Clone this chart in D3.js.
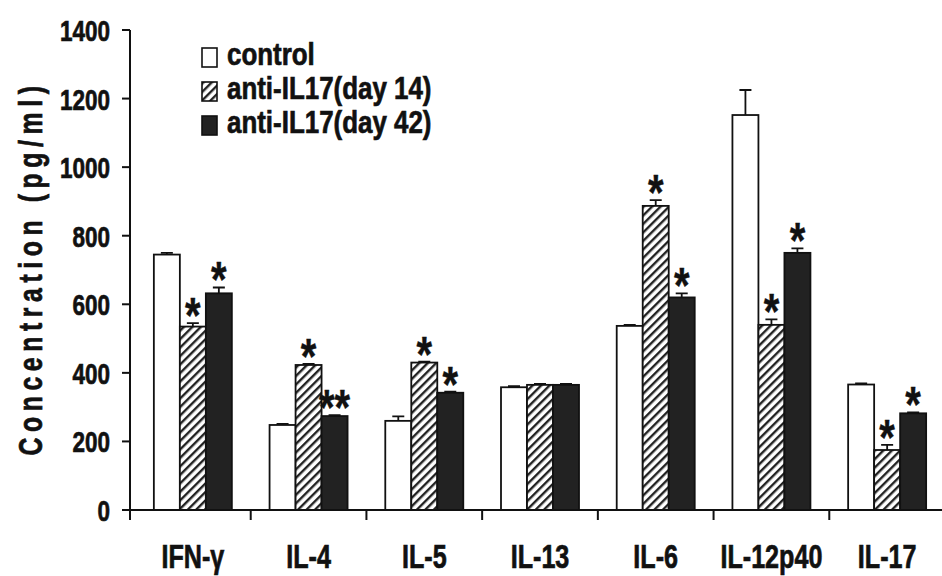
<!DOCTYPE html>
<meta charset="utf-8">
<script src="https://d3js.org/d3.v7.min.js"></script>
<style>
    body { margin: 0; background: #fff; }
    text { font-family: "Liberation Sans", Arial, sans-serif; font-weight: bold; fill: #111; stroke: #111; stroke-width: 0.7px; }
</style>
<body>
<svg id="chart" width="942" height="576"></svg>
<script>
    // data
    var cytokines = ["IFN-\u03b3", "IL-4", "IL-5", "IL-13", "IL-6", "IL-12p40", "IL-17"];
    var groups = ["control", "anti-IL17(day 14)", "anti-IL17(day 42)"];
    var controlVals = [745, 248, 260, 358, 537, 1152, 366];
    var controlErr = [5, 3, 13, 3, 3, 73, 3];
    var day14Vals = [535, 423, 430, 365, 887, 540, 175];
    var day14Err = [10, 3, 3, 3, 17, 16, 15];
    var day42Vals = [632, 274, 342, 365, 620, 750, 282];
    var day42Err = [17, 3, 3, 3, 12, 13, 3];
    var day14Stars = ["*", "*", "*", "", "*", "*", "*"];
    var day42Stars = ["*", "**", "*", "", "*", "*", "*"];
    var yTicks = [0, 200, 400, 600, 800, 1000, 1200, 1400];

    var series = [
        { name: groups[0], vals: controlVals, err: controlErr, stars: null },
        { name: groups[1], vals: day14Vals, err: day14Err, stars: day14Stars },
        { name: groups[2], vals: day42Vals, err: day42Err, stars: day42Stars }
    ];
    var fills = ["#fff", "url(#hatch)", "#222"];

    var svg = d3.select("#chart");

    // diagonal hatch
    var pat = svg.append("defs").append("pattern")
        .attr("id", "hatch")
        .attr("patternUnits", "userSpaceOnUse")
        .attr("width", 6).attr("height", 6)
        .attr("patternTransform", "rotate(45)");
    pat.append("rect").attr("width", 6).attr("height", 6).attr("fill", "#fff");
    pat.append("rect").attr("width", 2.4).attr("height", 6).attr("fill", "#222");

    var x = d3.scaleBand().domain(cytokines).range([135, 945]).paddingInner(0).paddingOuter(0);
    var groupW = 78;
    var xSub = d3.scaleBand().domain(d3.range(3)).range([0, groupW]);
    var y = d3.scaleLinear().domain([0, 1400]).range([510, 30]);

    function barX(c, i) {
        return x(c) + (x.bandwidth() - groupW) / 2 + xSub(i);
    }

    // bars
    series.forEach(function (s, si) {
        var g = svg.append("g");
        var w = xSub.bandwidth();
        g.selectAll("rect")
            .data(cytokines)
            .enter()
            .append("rect")
            .attr("x", (c) => barX(c, si))
            .attr("y", (c, i) => y(s.vals[i]))
            .attr("width", w)
            .attr("height", (c, i) => y(0) - y(s.vals[i]))
            .attr("fill", fills[si])
            .attr("stroke", "#111")
            .attr("stroke-width", 1.8);

        // error bars (upper only)
        g.selectAll("path.err")
            .data(cytokines)
            .enter()
            .append("path")
            .attr("class", "err")
            .attr("d", (c, i) => {
                var cx = barX(c, si) + w / 2;
                var top = y(s.vals[i] + s.err[i]);
                var base = y(s.vals[i]);
                return d3.line()([[cx, base], [cx, top]]) + d3.line()([[cx - 6, top], [cx + 6, top]]);
            })
            .attr("stroke", "#111")
            .attr("stroke-width", 1.8)
            .attr("fill", "none");

        // significance marks
        if (s.stars) {
            g.selectAll("text.star")
                .data(cytokines)
                .enter()
                .append("text")
                .attr("class", "star")
                .attr("text-anchor", "middle")
                .style("font-size", "50px")
                .style("stroke-width", "0.4px")
                .attr("transform", (c, i) => {
                    var cx = barX(c, si) + w / 2;
                    var top = y(s.vals[i] + s.err[i]);
                    return "translate(" + cx + "," + (top + 10) + ") scale(0.8,1)";
                })
                .text((c, i) => s.stars[i]);
        }
    });

    // y axis
    var yAxis = svg.append("g");
    yAxis.append("line")
        .attr("x1", 130).attr("x2", 130)
        .attr("y1", y(1400)).attr("y2", 520)
        .attr("stroke", "#111").attr("stroke-width", 2);
    yAxis.selectAll("line.tick")
        .data(yTicks)
        .enter()
        .append("line")
        .attr("class", "tick")
        .attr("x1", 122).attr("x2", 130)
        .attr("y1", (d) => y(d)).attr("y2", (d) => y(d))
        .attr("stroke", "#111").attr("stroke-width", 2);
    yAxis.selectAll("text")
        .data(yTicks)
        .enter()
        .append("text")
        .attr("text-anchor", "end")
        .style("font-size", "30px")
        .attr("transform", (d) => "translate(110," + (y(d) + 11) + ") scale(0.75,1)")
        .text((d) => d);

    // x axis
    var xAxis = svg.append("g");
    xAxis.append("line")
        .attr("x1", 130).attr("x2", 942)
        .attr("y1", y(0)).attr("y2", y(0))
        .attr("stroke", "#111").attr("stroke-width", 2);
    xAxis.selectAll("line.tick")
        .data(cytokines.slice(1))
        .enter()
        .append("line")
        .attr("class", "tick")
        .attr("x1", (c) => x(c)).attr("x2", (c) => x(c))
        .attr("y1", y(0)).attr("y2", y(0) + 10)
        .attr("stroke", "#111").attr("stroke-width", 2);
    xAxis.selectAll("text")
        .data(cytokines)
        .enter()
        .append("text")
        .attr("text-anchor", "middle")
        .style("font-size", "34px")
        .attr("transform", (c) => "translate(" + (x(c) + x.bandwidth() / 2) + ",568) scale(0.74,1)")
        .text((c) => c);

    // y label
    svg.append("text")
        .attr("text-anchor", "middle")
        .style("font-size", "33px")
        .style("letter-spacing", "7.5px")
        .attr("transform", "translate(42,268) rotate(-90) scale(0.75,1)")
        .text("Concentration (pg/ml)");

    // legend
    var legend = svg.append("g");
    var lg = legend.selectAll("g")
        .data(groups)
        .enter()
        .append("g")
        .attr("transform", (d, i) => "translate(202," + (48 + i * 34) + ")");
    lg.append("rect")
        .attr("width", 15).attr("height", 19)
        .attr("fill", (d, i) => fills[i])
        .attr("stroke", "#111").attr("stroke-width", 1.6);
    lg.append("text")
        .style("font-size", "32px")
        .attr("transform", "translate(25,17) scale(0.81,1)")
        .text((d) => d);
</script>
</body>
